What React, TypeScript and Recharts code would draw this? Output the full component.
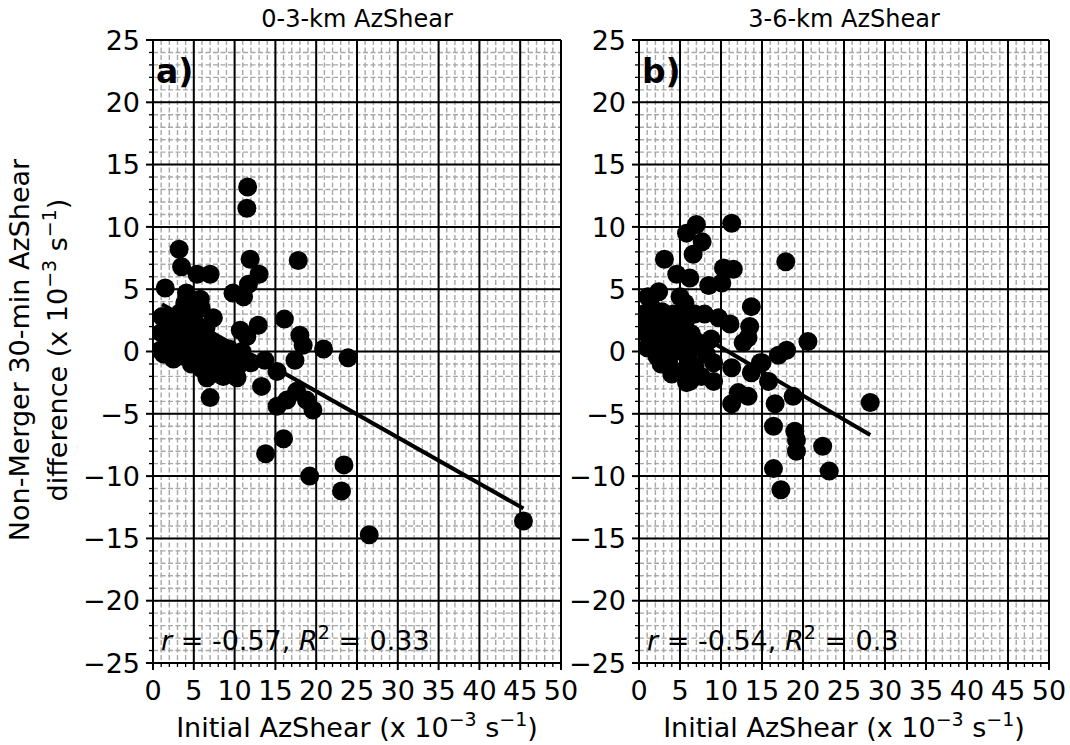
import { ScatterChart, Scatter, XAxis, YAxis, CartesianGrid, ReferenceLine } from 'recharts'

// panel a) 0-3-km AzShear: initial value vs 30-min difference
const lowX = [
  11.6, 11.5, 3.2, 11.9, 17.8, 3.5, 7.0, 5.4, 13.0, 1.5, 4.1, 9.8, 11.7, 11.1, 5.8, 1.1, 3.3, 7.4, 16.1, 4.9,
  10.7, 12.9, 18.0, 11.5, 0.9, 20.9, 18.4, 17.4, 13.7, 15.2, 13.3, 7.0, 6.6, 8.6, 10.3, 15.2, 17.6, 18.8, 19.6, 16.4,
  23.9, 16.0, 13.8, 23.4, 19.2, 23.1, 26.5, 45.4,
  1.0, 1.3, 1.6, 1.9, 2.3, 2.4, 2.5, 2.9, 3.1, 3.4, 3.6, 3.8, 4.0, 4.3, 4.5, 4.7, 5.0, 5.3, 5.5, 5.8,
  6.0, 6.2, 6.5, 6.7, 7.0, 7.2, 7.6, 7.9, 8.3, 8.6, 9.0, 9.3, 9.8, 10.4, 10.9, 12.0, 5.9, 3.9,
]
const lowY = [
  13.2, 11.5, 8.2, 7.4, 7.3, 6.8, 6.2, 6.2, 6.2, 5.1, 4.7, 4.7, 5.4, 4.4, 4.2, 2.8, 3.1, 2.7, 2.6, 1.7,
  1.7, 2.1, 1.3, 1.2, 0.1, 0.2, 0.5, -0.7, -0.7, -1.6, -2.8, -3.7, -2.1, -2.0, -2.1, -4.4, -3.2, -3.9, -4.7, -3.9,
  -0.5, -7.0, -8.2, -9.1, -10.0, -11.2, -14.7, -13.6,
  1.5, -0.2, 2.2, 0.6, 2.6, 1.2, -0.6, 2.0, 0.2, 1.0, 2.6, -0.4, 1.6, 0.3, 2.9, -1.0, 0.9, 2.2, -0.3, 1.3,
  -1.4, 0.5, 1.9, -0.6, 0.9, -1.8, 0.1, -1.1, 0.4, -0.8, -1.5, 0.2, -0.6, -1.2, 0.0, -0.9, 3.5, 3.9,
]
const lowFitX = [1.1, 45.4]
const lowFitY = [3.8, -12.6]

// panel b) 3-6-km AzShear
const midX = [
  11.3, 7.0, 5.8, 7.7, 6.6, 3.1, 17.9, 10.3, 11.5, 4.6, 6.2, 8.5, 10.1, 2.4, 1.1, 5.0, 5.6, 13.7, 6.8, 8.0,
  9.7, 11.1, 13.5, 13.3, 12.7, 20.6, 17.0, 18.0, 9.1, 14.8, 11.3, 13.7, 15.8, 9.1, 5.8, 13.3, 12.1, 11.3, 16.6, 18.8,
  3.0, 15.0, 28.2, 16.4, 19.0, 19.2, 19.2, 22.4, 16.4, 23.2, 17.3,
  0.6, 0.8, 1.0, 1.2, 1.5, 1.8, 2.0, 2.2, 2.5, 2.8, 3.0, 3.3, 3.6, 3.9, 4.2, 4.5, 4.8, 5.1, 5.4, 5.7,
  6.0, 6.4, 6.8, 7.2, 7.6, 8.2, 8.8, 4.0, 2.7, 6.2,
]
const midY = [
  10.3, 10.2, 9.5, 8.8, 7.8, 7.4, 7.2, 6.7, 6.6, 6.2, 5.9, 5.3, 5.5, 4.8, 4.4, 4.4, 3.9, 3.6, 3.0, 3.0,
  2.7, 2.2, 2.0, 1.1, 0.7, 0.8, -0.3, 0.1, -0.9, -0.9, -1.3, -1.7, -2.4, -2.4, -2.5, -3.6, -3.3, -4.2, -4.2, -3.6,
  -0.9, -0.9, -4.1, -6.0, -6.4, -7.1, -8.0, -7.6, -9.4, -9.6, -11.1,
  3.0, 1.5, 0.3, 2.2, 3.6, 0.9, 2.7, -0.4, 1.7, 3.2, 0.5, 2.4, -0.8, 1.2, 3.0, 0.0, 1.9, -1.6, 0.8, 2.5,
  -0.5, 1.4, -1.2, 0.5, -2.0, -0.2, 1.0, -1.8, -1.0, -2.4,
]
const midFitX = [0.5, 28.2]
const midFitY = [4.0, -6.7]

const xTicks = [
  0, 1, 2, 3, 4, 5, 6, 7, 8, 9, 10, 11, 12, 13, 14, 15, 16, 17, 18, 19, 20, 21, 22, 23, 24, 25,
  26, 27, 28, 29, 30, 31, 32, 33, 34, 35, 36, 37, 38, 39, 40, 41, 42, 43, 44, 45, 46, 47, 48, 49, 50,
]
const yTicks = xTicks.map((v) => v - 25)
const majorX = [0, 5, 10, 15, 20, 25, 30, 35, 40, 45, 50]
const majorY = [-25, -20, -15, -10, -5, 0, 5, 10, 15, 20, 25]

const FONT = '"DejaVu Sans", sans-serif'
const fmt = (v: number) => (v < 0 ? '\u2212' + Math.abs(v) : String(v))

function XTick({ x, y, payload }: any) {
  const v = payload.value
  const major = v % 5 === 0
  return (
    <g>
      <line x1={x} x2={x} y1={y} y2={y + (major ? 7 : 4)} stroke="#000" strokeWidth={major ? 2 : 1.3} />
      {major && (
        <text x={x} y={y + 37} textAnchor="middle" fontSize={27} fontFamily={FONT} fill="#000">
          {fmt(v)}
        </text>
      )}
    </g>
  )
}

function YTick({ x, y, payload }: any) {
  const v = payload.value
  const major = v % 5 === 0
  return (
    <g>
      <line x1={x} x2={x - (major ? 7 : 4)} y1={y} y2={y} stroke="#000" strokeWidth={major ? 2 : 1.3} />
      {major && (
        <text x={x - 13} y={y} dy="0.36em" textAnchor="end" fontSize={27} fontFamily={FONT} fill="#000">
          {fmt(v)}
        </text>
      )}
    </g>
  )
}

const Dot = (p: any) => <circle cx={p.cx} cy={p.cy} r={9.5} fill="#000" />
const NoDot = () => <g />

interface PanelProps {
  xs: number[]
  ys: number[]
  fitX: number[]
  fitY: number[]
  left: number
  right: number
}

// both panels span the full page so no tick label gets clipped by an svg edge
function Panel({ xs, ys, fitX, fitY, left, right }: PanelProps) {
  const pts = xs.map((x, i) => ({ x, y: ys[i] }))
  const fit = fitX.map((x, i) => ({ x, y: fitY[i] }))
  return (
    <ScatterChart width={1070} height={745} margin={{ top: 40, right, bottom: 52, left }}>
      <CartesianGrid stroke="#a8a8a8" strokeDasharray="5 2.5" strokeWidth={1.4} />
      {majorX.map((v) => (
        <ReferenceLine key={'x' + v} x={v} stroke="#000" strokeWidth={2} />
      ))}
      {majorY.map((v) => (
        <ReferenceLine key={'y' + v} y={v} stroke="#000" strokeWidth={2} />
      ))}
      <XAxis
        type="number"
        dataKey="x"
        domain={[0, 50]}
        ticks={xTicks}
        interval={0}
        tick={XTick}
        tickLine={false}
        tickSize={0}
        tickMargin={0}
        axisLine={false}
        allowDataOverflow
        height={30}
      />
      <YAxis
        type="number"
        dataKey="y"
        domain={[-25, 25]}
        ticks={yTicks}
        interval={0}
        tick={YTick}
        tickLine={false}
        tickSize={0}
        tickMargin={0}
        axisLine={false}
        allowDataOverflow
        width={60}
      />
      <Scatter data={pts} fill="#000" shape={Dot} isAnimationActive={false} />
      <Scatter data={fit} line={{ stroke: '#000', strokeWidth: 4 }} shape={NoDot} isAnimationActive={false} />
    </ScatterChart>
  )
}

function XLabel({ cx }: { cx: number }) {
  return (
    <text x={cx} y={737} textAnchor="middle" fontSize={27}>
      Initial AzShear (x 10
      <tspan dy={-11} fontSize={19}>{'\u22123'}</tspan>
      <tspan dy={11}> s</tspan>
      <tspan dy={-11} fontSize={19}>{'\u22121'}</tspan>
      <tspan dy={11}>)</tspan>
    </text>
  )
}

function Stat({ x, r, r2 }: { x: number; r: string; r2: string }) {
  return (
    <text x={x} y={650} fontSize={27}>
      <tspan fontStyle="italic">r</tspan> = {r}, <tspan fontStyle="italic">R</tspan>
      <tspan dy={-11} fontSize={19}>2</tspan>
      <tspan dy={11}> = {r2}</tspan>
    </text>
  )
}

export default function App() {
  return (
    <div style={{ position: 'absolute', left: 0, top: 0, width: 1070, height: 745, background: '#fff', fontFamily: FONT }}>
      <div style={{ position: 'absolute', left: 0, top: 0 }}>
        <Panel xs={lowX} ys={lowY} fitX={lowFitX} fitY={lowFitY} left={93} right={509} />
      </div>
      <div style={{ position: 'absolute', left: 0, top: 0 }}>
        <Panel xs={midX} ys={midY} fitX={midFitX} fitY={midFitY} left={579} right={21} />
      </div>
      <svg width={1070} height={745} style={{ position: 'absolute', left: 0, top: 0, pointerEvents: 'none' }} fontFamily={FONT} fill="#000">
        <text x={357} y={27} textAnchor="middle" fontSize={24}>0-3-km AzShear</text>
        <text x={844} y={27} textAnchor="middle" fontSize={24}>3-6-km AzShear</text>
        <text x={156} y={83} fontSize={33} fontWeight="bold">a)</text>
        <text x={642} y={83} fontSize={33} fontWeight="bold">b)</text>
        <Stat x={161} r="-0.57" r2="0.33" />
        <Stat x={647} r="-0.54" r2="0.3" />
        <XLabel cx={357} />
        <XLabel cx={844} />
        <text transform="translate(29,350) rotate(-90)" textAnchor="middle" fontSize={27}>
          Non-Merger 30-min AzShear
        </text>
        <text transform="translate(67,350) rotate(-90)" textAnchor="middle" fontSize={27}>
          difference (x 10
          <tspan dy={-11} fontSize={19}>{'\u22123'}</tspan>
          <tspan dy={11}> s</tspan>
          <tspan dy={-11} fontSize={19}>{'\u22121'}</tspan>
          <tspan dy={11}>)</tspan>
        </text>
      </svg>
    </div>
  )
}
